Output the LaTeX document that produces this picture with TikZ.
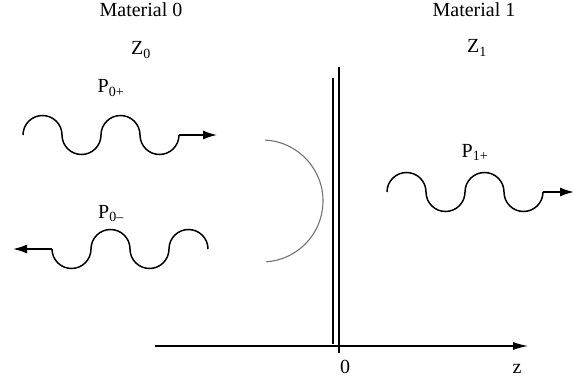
\documentclass[tikz,border=0pt]{standalone}
\usepackage{fontspec}
\setmainfont{Liberation Serif}
\usetikzlibrary{arrows.meta}
\begin{document}
\begin{tikzpicture}[x=1pt,y=1pt,
  wave/.style={line width=1.5pt,black},
  bigtip/.style={-{Latex[length=14pt,width=9pt]}},
  lbl/.style={anchor=base,font=\fontsize{20}{24}\selectfont,inner sep=0pt}]
\useasboundingbox (0,0) rectangle (573,381);
% labels
\node[lbl] (m0) at (141,364) {Material 0};
\node[lbl] (z0) at (141,326) {Z\textsubscript{0}};
\node[lbl] (p0p) at (111,288) {P\textsubscript{0+}};
\node[lbl] (p0m) at (111,163) {P\textsubscript{0–}};
\node[lbl] (m1) at (474,364) {Material 1};
\node[lbl] (z1) at (477,328) {Z\textsubscript{1}};
\node[lbl] (p1p) at (475,224) {P\textsubscript{1+}};
\node[lbl] (zero) at (345,8) {0};
\node[lbl] (zlab) at (517,8) {z};
% incident wave
\coordinate (a0) at (23,246);
\coordinate (a1) at (217,246);
\draw[wave] (a0) arc[start angle=180,end angle=0,radius=19.5]
  arc[start angle=180,end angle=360,radius=19.5]
  arc[start angle=180,end angle=0,radius=19.5]
  arc[start angle=180,end angle=360,radius=19.5] coordinate (a2);
\draw[wave,bigtip] (a2) -- (a1);
% reflected wave
\coordinate (b0) at (208,132);
\coordinate (b1) at (13,132);
\draw[wave] (b0) arc[start angle=0,end angle=180,radius=19.5]
  arc[start angle=360,end angle=180,radius=19.5]
  arc[start angle=0,end angle=180,radius=19.5]
  arc[start angle=360,end angle=180,radius=19.5] coordinate (b2);
\draw[wave,bigtip] (b2) -- (b1);
% transmitted wave
\coordinate (c0) at (387,189);
\coordinate (c1) at (574,189);
\draw[wave] (c0) arc[start angle=180,end angle=0,radius=19.5]
  arc[start angle=180,end angle=360,radius=19.5]
  arc[start angle=180,end angle=0,radius=19.5]
  arc[start angle=180,end angle=360,radius=19.5] coordinate (c2);
\draw[wave,bigtip] (c2) -- (c1);
% reflection arc
\coordinate (rc) at (262,180);
\draw[black!55,line width=1.1pt] ([shift={(87:61)}]rc) arc[start angle=87,end angle=-86,radius=61];
% interface
\coordinate (v1t) at (339,314);
\coordinate (v1b) at (339,28);
\coordinate (v2t) at (333,303);
\coordinate (v2b) at (333,37);
\draw[line width=1.2pt] (v1t) -- (v1b);
\draw[line width=1.2pt] (v2t) -- (v2b);
% axis
\coordinate (ax0) at (155,35);
\coordinate (ax1) at (528,35);
\draw[line width=1.2pt,-{Latex[length=15pt,width=8pt]}] (ax0) -- (ax1);
\end{tikzpicture}
\end{document}
